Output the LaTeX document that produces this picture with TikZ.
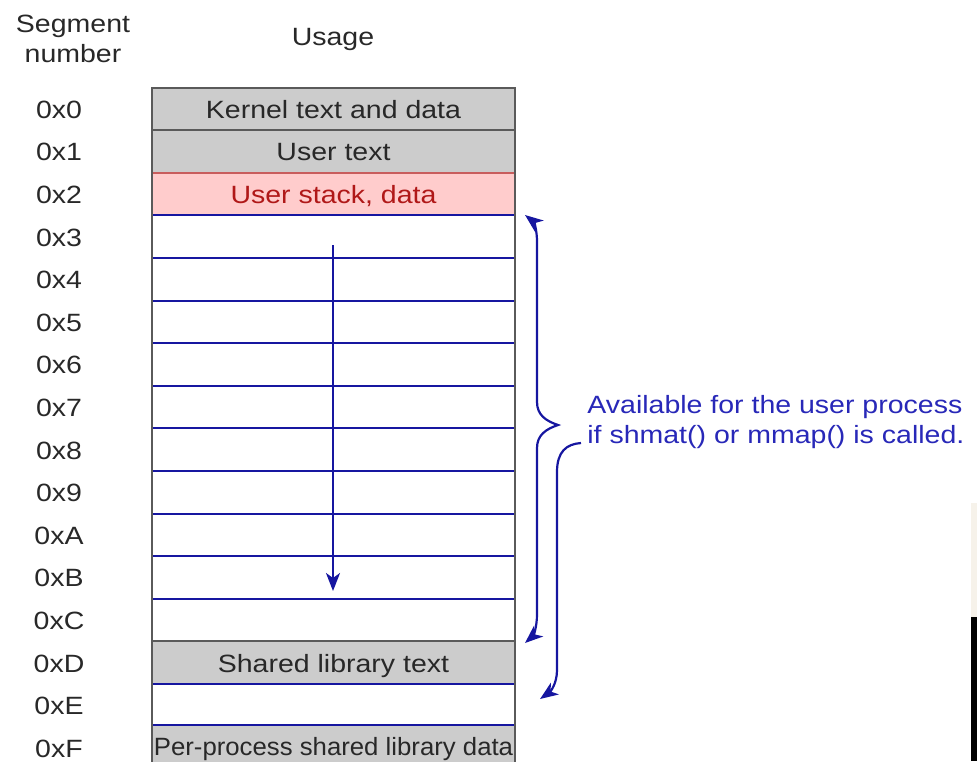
\documentclass[tikz,border=0pt]{standalone}
\usepackage{fontspec}
\setmainfont[FakeStretch=1.14]{Liberation Sans}
\newfontfamily\narrowfont[FakeStretch=1.03]{Liberation Sans}
\usetikzlibrary{arrows.meta}

\definecolor{segframe}{RGB}{90,90,90}
\definecolor{seggray}{RGB}{204,204,204}
\definecolor{segpink}{RGB}{255,204,204}
\definecolor{segred}{RGB}{176,24,24}
\definecolor{segblue}{RGB}{22,22,160}
\definecolor{segbluetext}{RGB}{40,40,184}
\definecolor{segtext}{RGB}{40,40,40}
\definecolor{segbeige}{RGB}{246,242,234}

\begin{document}
\begin{tikzpicture}[x=0.5pt, y=-0.5pt,
    every node/.style={font=\fontsize{12.5}{15}\selectfont, text=segtext},
    seglabel/.style={inner sep=0pt, text height=9pt, text depth=0pt},
    row/.style={rectangle, inner sep=0pt, minimum width=181.5pt, minimum height=21.3pt, text height=9pt, text depth=0pt},
    grayrow/.style={row, fill=seggray},
    pinkrow/.style={row, fill=segpink, text=segred},
    freerow/.style={row, fill=white},
    graysep/.style={draw=segframe, line width=1pt},
    redsep/.style={draw=segred!70, line width=1pt},
    bluesep/.style={draw=segblue, line width=1pt},
    bracket/.style={draw=segblue, line width=1.1pt},
    tip/.style={-{Stealth[length=9pt, width=7pt, inset=2.5pt]}}
]
    \useasboundingbox (0,0) rectangle (977,761);
    \clip (0,0) rectangle (977,761);

    % headings
    \node [anchor=north, align=center, inner sep=0pt] (seghead) at (73,15) {Segment\\number};
    \node [anchor=base, inner sep=0pt] (usage) at (333,45) {Usage};

    % segment numbers
    \node [seglabel] (s0) at (59,109.3) {0x0};
    \node [seglabel] (s1) at (59,151.9) {0x1};
    \node [seglabel] (s2) at (59,194.5) {0x2};
    \node [seglabel] (s3) at (59,237.1) {0x3};
    \node [seglabel] (s4) at (59,279.7) {0x4};
    \node [seglabel] (s5) at (59,322.3) {0x5};
    \node [seglabel] (s6) at (59,364.9) {0x6};
    \node [seglabel] (s7) at (59,407.5) {0x7};
    \node [seglabel] (s8) at (59,450.1) {0x8};
    \node [seglabel] (s9) at (59,492.7) {0x9};
    \node [seglabel] (sA) at (59,535.3) {0xA};
    \node [seglabel] (sB) at (59,577.9) {0xB};
    \node [seglabel] (sC) at (59,620.5) {0xC};
    \node [seglabel] (sD) at (59,663.1) {0xD};
    \node [seglabel] (sE) at (59,705.7) {0xE};
    \node [seglabel] (sF) at (59,748.3) {0xF};

    % usage column
    \node [grayrow] (r0) at (333.5,109.3) {Kernel text and data};
    \node [grayrow] (r1) at (333.5,151.9) {User text};
    \node [pinkrow] (r2) at (333.5,194.5) {User stack, data};
    \node [freerow] (r3) at (333.5,237.1) {};
    \node [freerow] (r4) at (333.5,279.7) {};
    \node [freerow] (r5) at (333.5,322.3) {};
    \node [freerow] (r6) at (333.5,364.9) {};
    \node [freerow] (r7) at (333.5,407.5) {};
    \node [freerow] (r8) at (333.5,450.1) {};
    \node [freerow] (r9) at (333.5,492.7) {};
    \node [freerow] (rA) at (333.5,535.3) {};
    \node [freerow] (rB) at (333.5,577.9) {};
    \node [freerow] (rC) at (333.5,620.5) {};
    \node [grayrow] (rD) at (333.5,663.1) {Shared library text};
    \node [freerow] (rE) at (333.5,705.7) {};
    \node [grayrow, font=\narrowfont\fontsize{12.5}{15}\selectfont] (rF) at (333.5,746.5) {Per-process shared library data};

    % row borders
    \draw[graysep] (r1.north west) -- (r1.north east);
    \draw[redsep] (r2.north west) -- (r2.north east);
    \draw[bluesep] (r3.north west) -- (r3.north east);
    \draw[bluesep] (r4.north west) -- (r4.north east);
    \draw[bluesep] (r5.north west) -- (r5.north east);
    \draw[bluesep] (r6.north west) -- (r6.north east);
    \draw[bluesep] (r7.north west) -- (r7.north east);
    \draw[bluesep] (r8.north west) -- (r8.north east);
    \draw[bluesep] (r9.north west) -- (r9.north east);
    \draw[bluesep] (rA.north west) -- (rA.north east);
    \draw[bluesep] (rB.north west) -- (rB.north east);
    \draw[bluesep] (rC.north west) -- (rC.north east);
    \draw[graysep] (rD.north west) -- (rD.north east);
    \draw[bluesep] (rE.north west) -- (rE.north east);
    \draw[bluesep] (rF.north west) -- (rF.north east);
    \draw[graysep] (rF.south west) |- (r0.north east) -- (rF.south east);

    % growth of the stack
    \coordinate (flowtop) at (333,245);
    \coordinate (flowbot) at (333,591);
    \draw[bluesep, tip] (flowtop) -- (flowbot);

    % note on the right
    \node [anchor=north west, align=left, inner sep=0pt, text=segbluetext] (avail) at (587,395)
        {Available for the user process\\if shmat() or mmap() is called.};

    \coordinate (b1top) at (525,215);
    \coordinate (b1tip) at (558,425);
    \coordinate (b1bot) at (525,643);
    \draw[bracket, {Stealth[length=9pt, width=7pt, inset=2.5pt]}-{Stealth[length=9pt, width=7pt, inset=2.5pt]}]
        (b1top) .. controls (534,222) and (537,230) .. (537,242) -- (537,402)
        .. controls (537,415) and (546,421) .. (b1tip)
        .. controls (546,429) and (537,435) .. (537,448) -- (537,614)
        .. controls (537,628) and (533,636) .. (b1bot);

    \coordinate (hook) at (581,443);
    \coordinate (b2bot) at (540,699);
    \draw[bracket, tip] (hook) .. controls (566,444) and (557,452) .. (557,472) -- (557,670)
        .. controls (557,684) and (550,692) .. (b2bot);

    % screen edge
    \fill[segbeige] (971,503) rectangle (977,617);
    \fill[black] (971,617) rectangle (977,761);
\end{tikzpicture}
\end{document}
